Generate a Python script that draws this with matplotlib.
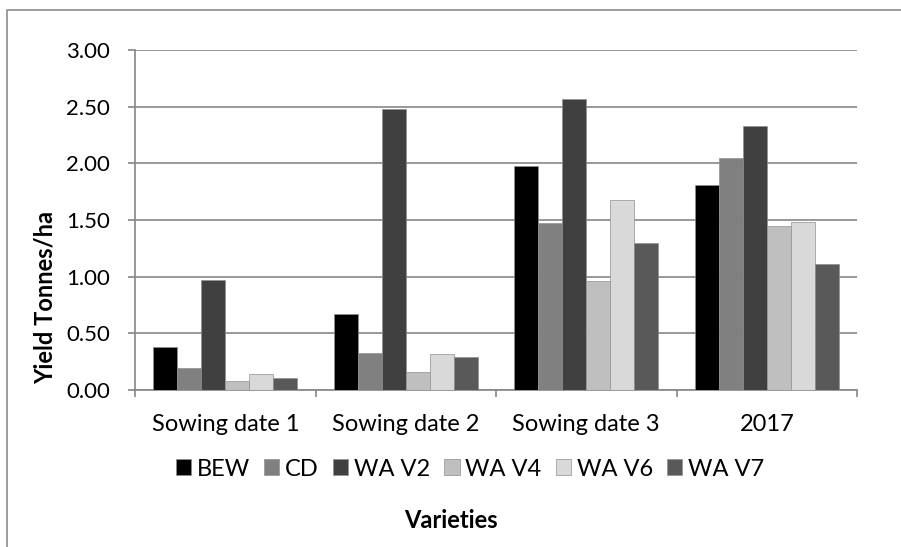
import numpy as np
import matplotlib
matplotlib.use('Agg')
import matplotlib.pyplot as plt
from matplotlib.lines import Line2D

plt.rcParams['font.family'] = ['Lato', 'DejaVu Sans']

categories = ['Sowing date 1', 'Sowing date 2', 'Sowing date 3', '2017']
varieties = ['BEW', 'CD', 'WA V2', 'WA V4', 'WA V6', 'WA V7']
bew = [0.38, 0.67, 1.98, 1.81]
cd = [0.19, 0.33, 1.47, 2.05]
wa_v2 = [0.97, 2.48, 2.57, 2.33]
wa_v4 = [0.08, 0.16, 0.96, 1.45]
wa_v6 = [0.14, 0.32, 1.68, 1.48]
wa_v7 = [0.11, 0.29, 1.30, 1.11]
series = [bew, cd, wa_v2, wa_v4, wa_v6, wa_v7]
colors = ['#000000', '#808080', '#404040', '#bfbfbf', '#d9d9d9', '#595959']

W, H = 901, 547
fig = plt.figure(figsize=(W / 100, H / 100), dpi=100)
ax = fig.add_axes([135 / W, 1 - 390 / H, (857 - 135) / W, 340 / H])

x = np.arange(len(categories))
bw = 0.8 / 6
for i, (vals, c, name) in enumerate(zip(series, colors, varieties)):
    ax.bar(x - 0.4 + bw * (i + 0.5), vals, bw, color=c, label=name,
           edgecolor='#909090', linewidth=0.5, zorder=3)

ax.set_xlim(-0.5, 3.5)
ax.set_ylim(0, 3)
yt = np.arange(0, 3.01, 0.5)
ax.set_yticks(yt)
ax.set_yticklabels(['%.2f' % v for v in yt])
ax.grid(axis='y', color='#868686', linewidth=1.2, zorder=0)
for s in ['top', 'right']:
    ax.spines[s].set_visible(False)
for s in ['left', 'bottom']:
    ax.spines[s].set_color('#868686')
    ax.spines[s].set_linewidth(1.2)
ax.tick_params(axis='y', length=5, width=1.2, color='#868686', pad=13, labelsize=16)

ax.set_xticks(x)
ax.set_xticklabels(categories)
ax.set_xticks(np.arange(-0.5, 3.6, 1.0), minor=True)
ax.tick_params(axis='x', which='major', length=0, pad=17, labelsize=17)
ax.tick_params(axis='x', which='minor', length=5, width=1.2, color='#868686')

fig.text(45 / W, 1 - 297 / H, 'Yield Tonnes/ha', rotation=90, ha='center', va='center',
         fontsize=17, fontweight='bold')
fig.text(451 / W, 1 - 521 / H, 'Varieties', ha='center', va='center',
         fontsize=17, fontweight='bold')

fig.legend(loc='center', bbox_to_anchor=(470 / W, 1 - 469 / H), ncol=6, frameon=False,
           fontsize=17, handlelength=0.64, handleheight=0.64, handletextpad=0.25,
           columnspacing=0.6, borderaxespad=0, borderpad=0)

fig.add_artist(Line2D([7 / W, 7 / W, 1], [0, 1 - 10 / H, 1 - 10 / H],
                      transform=fig.transFigure, color='#8c8c8c', linewidth=1.2))

fig.savefig('out.png', dpi=100)
